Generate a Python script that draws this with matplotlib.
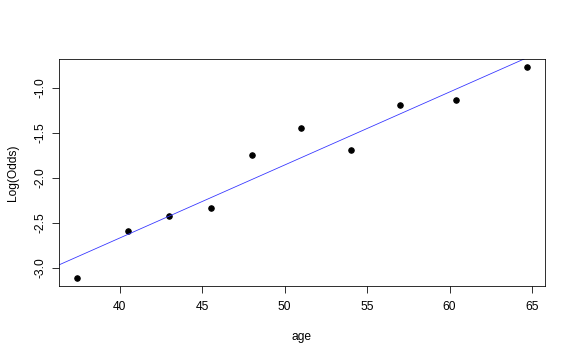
import numpy as np
import matplotlib
matplotlib.use("Agg")
import matplotlib.pyplot as plt

# age group midpoints and observed log odds
age = [37.4, 40.5, 43.0, 45.5, 48.0, 51.0, 54.0, 57.0, 60.4, 64.7]
log_odds = [-3.107, -2.595, -2.421, -2.332, -1.749, -1.450, -1.687, -1.188, -1.133, -0.774]

# fitted line
intercept = -5.907
slope = 0.0810

x_ticks = [40, 45, 50, 55, 60, 65]
y_ticks = [-3.0, -2.5, -2.0, -1.5, -1.0]

plt.rcParams['font.family'] = ['Liberation Sans', 'DejaVu Sans']

fig = plt.figure(figsize=(8, 5), dpi=72)
ax = fig.add_axes([59 / 576, 1 - 286 / 360, (545 - 59) / 576, (286 - 59) / 360])

ax.plot(age, log_odds, 'o', color='black', ms=5.5)

# R style: extend 4% past the data range
xr = max(age) - min(age)
yr = max(log_odds) - min(log_odds)
ax.set_xlim(min(age) - 0.04 * xr, max(age) + 0.04 * xr)
ax.set_ylim(min(log_odds) - 0.04 * yr, max(log_odds) + 0.04 * yr)

xs = np.array(ax.get_xlim())
ax.plot(xs, intercept + slope * xs, color='#3333ff', lw=0.8)
ax.set_xlim(xs)

ax.set_xticks(x_ticks)
ax.set_xticklabels([str(t) for t in x_ticks])
ax.set_yticks(y_ticks)
ax.set_yticklabels([f"{t:.1f}" for t in y_ticks], rotation=90, va='center')

ax.tick_params(length=7, width=0.8, labelsize=12)
ax.tick_params(axis='x', pad=8)
ax.tick_params(axis='y', pad=6)
for s in ax.spines.values():
    s.set_linewidth(0.8)

ax.set_xlabel('age', fontsize=12, labelpad=18)
ax.set_ylabel('Log(Odds)', fontsize=12, labelpad=15)

fig.savefig('out.png', dpi=72)
